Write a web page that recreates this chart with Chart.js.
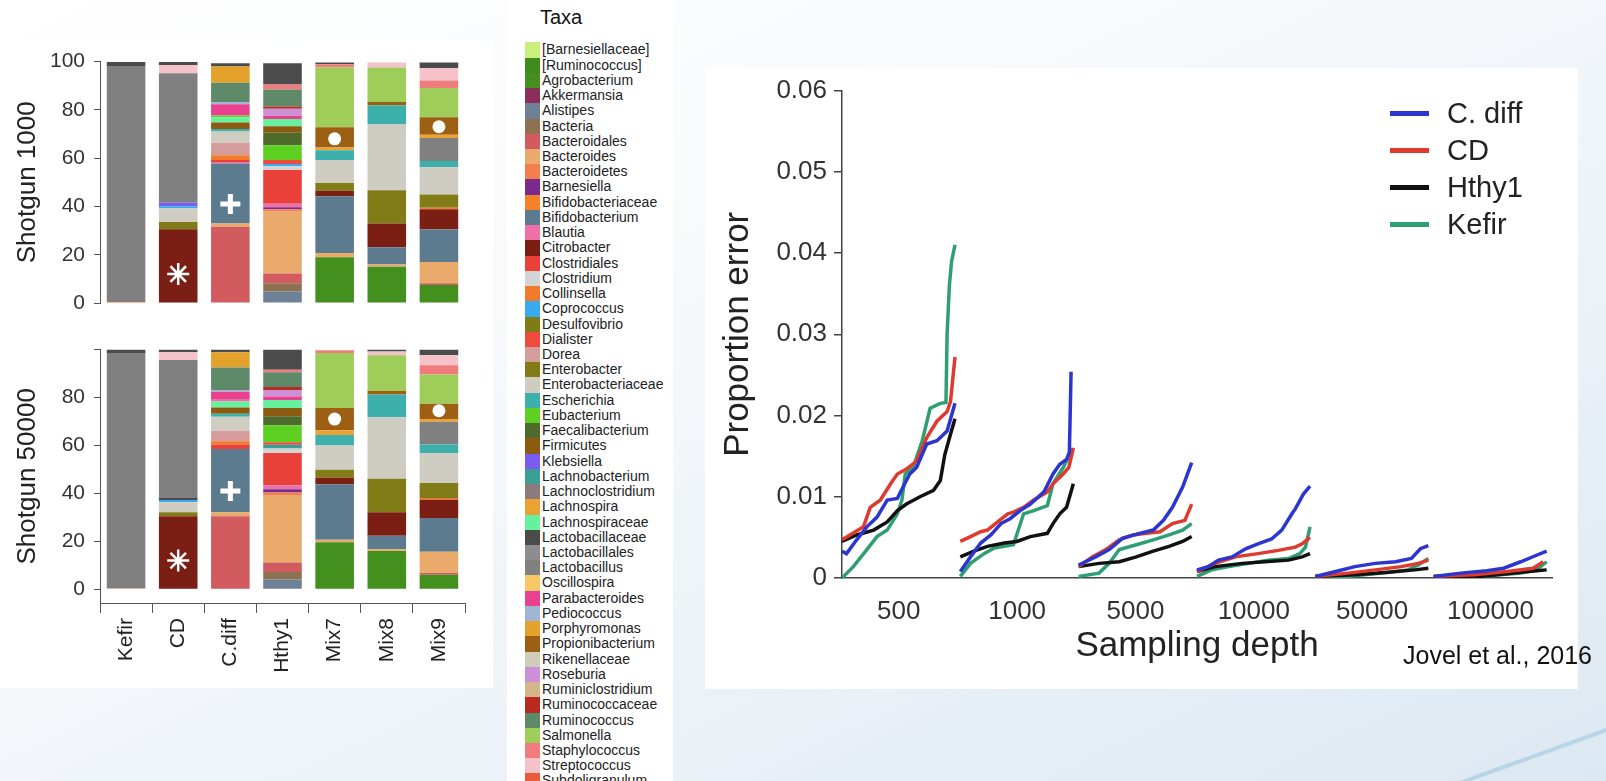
<!DOCTYPE html>
<html>
<head>
<meta charset="utf-8">
<title>Shotgun composition and sampling depth</title>
<script src="https://cdn.jsdelivr.net/npm/chart.js@4.4.1/dist/chart.umd.min.js"></script>
<style>
  html, body { margin:0; padding:0; }
  body { width:1606px; height:781px; overflow:hidden; position:relative;
         font-family:"Liberation Sans", Arial, sans-serif;
         background: linear-gradient(155deg, #ffffff 0%, #f8fafc 35%, #eaf1f7 70%, #dce8f2 100%); }
  .box { position:absolute; background:#fff; }
  .abs { position:absolute; }
  #taxa-box { left:507px; top:0; width:166px; height:781px; overflow:hidden; }
  #taxa-title { position:absolute; left:33px; top:5px; font-size:20px; line-height:24px; color:#111; }
  .taxa-row { position:absolute; left:18px; height:15.23px; line-height:15.23px; font-size:14px; color:#222; white-space:nowrap; }
  .taxa-row span { display:inline-block; width:15px; height:15.23px; vertical-align:top; margin-right:2px; }
  .leg-row { position:absolute; left:1390px; height:34px; line-height:34px; font-size:29px; color:#222; white-space:nowrap; }
  .leg-row span { display:inline-block; width:39px; height:5px; vertical-align:middle; margin-right:18px; position:relative; top:-2px; }
  #cite { left:1403px; top:642px; font-size:25px; line-height:26px; color:#111; }
</style>
</head>
<body>

<svg class="abs" width="1606" height="781" style="left:0;top:0">
  <line x1="1440" y1="790" x2="1615" y2="727" stroke="#b7d5e4" stroke-width="4"/>
</svg>

<div class="box" style="left:0;top:40px;width:493px;height:648px"></div>
<canvas id="bar1000" class="abs" width="493" height="288" style="left:0;top:40px"></canvas>
<canvas id="bar50000" class="abs" width="493" height="360" style="left:0;top:328px"></canvas>

<div id="taxa-box" class="box">
  <div id="taxa-title">Taxa</div>
</div>

<div class="box" style="left:705px;top:68px;width:873px;height:621px"></div>
<canvas id="erro" class="abs" width="873" height="621" style="left:705px;top:68px"></canvas>
<div id="leg"></div>
<div id="cite" class="abs">Jovel et al., 2016</div>

<script>
Chart.defaults.font.family = '"Liberation Sans", Arial, sans-serif';
Chart.defaults.animation = false;

// ---------------- Taxa ----------------
const taxaNames = ['[Barnesiellaceae]','[Ruminococcus]','Agrobacterium','Akkermansia','Alistipes','Bacteria',
  'Bacteroidales','Bacteroides','Bacteroidetes','Barnesiella','Bifidobacteriaceae','Bifidobacterium','Blautia',
  'Citrobacter','Clostridiales','Clostridium','Collinsella','Coprococcus','Desulfovibrio','Dialister','Dorea',
  'Enterobacter','Enterobacteriaceae','Escherichia','Eubacterium','Faecalibacterium','Firmicutes','Klebsiella',
  'Lachnobacterium','Lachnoclostridium','Lachnospira','Lachnospiraceae','Lactobacillaceae','Lactobacillales',
  'Lactobacillus','Oscillospira','Parabacteroides','Pediococcus','Porphyromonas','Propionibacterium',
  'Rikenellaceae','Roseburia','Ruminiclostridium','Ruminococcaceae','Ruminococcus','Salmonella',
  'Staphylococcus','Streptococcus','Subdoligranulum'];
const taxaColors = ['#c9f07c','#3f8c1d','#43901f','#8c2d5c','#6f8197','#8d7150',
  '#d25b60','#e9aa6c','#f2804f','#7c2a90','#f58128','#5c7b8f','#ee70a8',
  '#7b1f14','#e9413a','#d4d4d4','#f27a2b','#38aaf0','#7f7c14','#ef4b3c','#d59c9c',
  '#817c18','#cfcdc2','#3eb0ab','#5ed021','#4f6b2b','#8c5b12','#7a5df0',
  '#3a9f95','#8b7b7b','#eca232','#66f29c','#4b4b4b','#8d8d8d',
  '#808080','#f8c866','#e9418f','#a0b4d4','#e4a12b','#9d5f14',
  '#d0ccb9','#cd90d7','#d5b58b','#b8291f','#5e8a69','#9ecd5a',
  '#f07c7e','#f6c2c9','#e95b3b'];

const samples = ['Kefir','CD','C.diff','Hthy1','Mix7','Mix8','Mix9'];

// ---------------- Shotgun 1000 (segments bottom -> top, %) ----------------
const kefir1000 = [['Bacteroidetes',0.4],['Lactobacillus',97.8],['Lactobacillaceae',1.6]];
const cd1000 = [['Citrobacter',30.6],['Enterobacter',3.0],['Enterobacteriaceae',5.6],['Coprococcus',0.9],
  ['Klebsiella',1.4],['Lactobacillus',53.7],['Streptococcus',3.4],['Lactobacillaceae',1.2]];
const cdiff1000 = [['Bacteroidales',31.6],['Bacteroides',1.3],['Bifidobacterium',24.9],['Blautia',0.6],
  ['Clostridiales',0.8],['Collinsella',2.0],['Dorea',5.2],['Enterobacteriaceae',4.6],['Escherichia',1.1],
  ['Firmicutes',2.7],['Lachnospiraceae',2.1],['Eubacterium',0.8],['Parabacteroides',4.6],['Pediococcus',1.0],
  ['Ruminococcus',7.9],['Porphyromonas',6.8],['Lactobacillaceae',1.3]];
const hthy1000 = [['Alistipes',4.8],['Bacteria',3.4],['Bacteroidales',4.0],['Bacteroides',25.6],
  ['Bacteroidetes',1.0],['Barnesiella',0.9],['Blautia',1.4],['Clostridiales',14.0],['Clostridium',1.6],
  ['Coprococcus',0.9],['Dialister',1.6],['Eubacterium',6.1],['Faecalibacterium',5.2],['Firmicutes',2.7],
  ['Lachnospiraceae',3.0],['Parabacteroides',1.4],['Roseburia',2.9],['Ruminococcaceae',0.9],
  ['Ruminococcus',7.0],['Staphylococcus',2.1],['Lactobacillaceae',8.8]];
const mix7_1000 = [['Agrobacterium',19.0],['Bacteroides',1.7],['Bifidobacterium',23.5],['Citrobacter',2.3],
  ['Enterobacter',3.2],['Enterobacteriaceae',9.5],['Escherichia',4.1],['Lachnospira',1.1],
  ['Propionibacterium',8.4],['Salmonella',24.9],['Staphylococcus',1.2],['Lactobacillaceae',0.7]];
const mix8_1000 = [['Agrobacterium',15.0],['Bacteroides',0.9],['Bifidobacterium',7.2],['Citrobacter',9.8],
  ['Enterobacter',13.8],['Enterobacteriaceae',27.2],['Escherichia',8.0],['Propionibacterium',1.4],
  ['Salmonella',14.3],['Streptococcus',2.0]];
const mix9_1000 = [['Agrobacterium',7.5],['Bacteroidales',0.7],['Bacteroides',8.8],['Bifidobacterium',13.6],
  ['Citrobacter',8.2],['Collinsella',0.7],['Enterobacter',5.4],['Enterobacteriaceae',11.3],['Escherichia',2.6],
  ['Lactobacillus',9.5],['Lachnospira',1.4],['Propionibacterium',7.2],['Salmonella',12.2],
  ['Staphylococcus',3.1],['Streptococcus',5.1],['Lactobacillaceae',2.3]];

// ---------------- Shotgun 50000 ----------------
const kefir50000 = [['Bacteroides',0.4],['Lactobacillus',98.2],['Lactobacillaceae',1.4]];
const cd50000 = [['Citrobacter',30.5],['Enterobacter',1.7],['Enterobacteriaceae',4.1],['Coprococcus',1.0],
  ['Lactobacillaceae',0.8],['Lactobacillus',57.6],['Streptococcus',3.2],['Lactobacillaceae',1.1]];
const cdiff50000 = [['Bacteroidales',30.5],['Bacteroides',1.7],['Bifidobacterium',26.3],['Clostridiales',1.9],
  ['Collinsella',1.4],['Dorea',4.3],['Enterobacteriaceae',5.9],['Escherichia',1.2],['Firmicutes',2.7],
  ['Lachnospiraceae',2.4],['Blautia',1.1],['Parabacteroides',3.0],['Pediococcus',0.7],['Ruminococcus',9.4],
  ['Porphyromonas',6.4],['Lactobacillaceae',1.1]];
const hthy50000 = [['Alistipes',4.1],['Bacteria',3.1],['Bacteroidales',4.0],['Bacteroides',28.1],
  ['Bacteroidetes',1.1],['Barnesiella',1.3],['Blautia',1.7],['Clostridiales',13.5],['Clostridium',1.8],
  ['Lachnobacterium',1.6],['Dialister',1.1],['Eubacterium',7.0],['Faecalibacterium',3.8],['Firmicutes',3.4],
  ['Lachnospiraceae',3.4],['Parabacteroides',1.4],['Roseburia',2.7],['Ruminococcaceae',1.3],
  ['Ruminococcus',6.1],['Staphylococcus',1.1],['Lactobacillaceae',8.4]];
const mix7_50000 = [['Agrobacterium',19.6],['Bacteroides',1.1],['Bifidobacterium',23.1],['Citrobacter',2.7],
  ['Enterobacter',3.4],['Enterobacteriaceae',10.1],['Escherichia',4.4],['Lachnospira',2.0],
  ['Propionibacterium',9.2],['Salmonella',23.0],['Staphylococcus',1.1]];
const mix8_50000 = [['Agrobacterium',16.0],['Bacteroides',0.7],['Bifidobacterium',5.7],['Citrobacter',9.8],
  ['Enterobacter',13.9],['Enterobacteriaceae',25.7],['Escherichia',9.5],['Propionibacterium',1.4],
  ['Salmonella',14.9],['Streptococcus',1.6],['Lactobacillaceae',0.8]];
const mix9_50000 = [['Agrobacterium',6.1],['Bacteroidales',0.8],['Bacteroides',8.8],['Bifidobacterium',14.1],
  ['Citrobacter',7.6],['Collinsella',0.7],['Enterobacter',6.3],['Enterobacteriaceae',12.5],['Escherichia',3.5],
  ['Lactobacillus',9.5],['Lachnospira',1.2],['Propionibacterium',6.3],['Salmonella',12.2],
  ['Staphylococcus',3.9],['Streptococcus',4.1],['Lactobacillaceae',2.4]];

// white symbols drawn on the bars (*, +, dots)
const marks1000 = [null, 12, 41, null, 68, null, 73];
const marks50000 = [null, 12, 41, null, 71, null, 74.5];
const markStyles = ['circle','star','cross','circle','circle','circle','circle'];
const markSizes = [0, 11, 10, 0, 6.5, 0, 6.5];
const markStrokes = [0, 2.5, 5, 0, 0, 0, 0];
const pctTicks = [0, 20, 40, 60, 80, 100];

// ---------------- Proportion error ----------------
const depthLabels = ['500','1000','5000','10000','50000','100000'];
const seriesNames = ['C. diff','CD','Hthy1','Kefir'];
const seriesColors = ['#2b35d0','#e03a2e','#111111','#2f9e72'];
const errTicks = [0, 0.01, 0.02, 0.03, 0.04, 0.05, 0.06];
const errTickLabels = ['0','0.01','0.02','0.03','0.04','0.05','0.06'];

// [position within depth group 0..1, error] per depth group
const errCdiff = [
  [[0,.0033],[.04,.0030],[.13,.0047],[.22,.0063],[.31,.0075],[.40,.0096],[.49,.0098],[.54,.0112],[.60,.0128],[.66,.0136],[.75,.0165],[.84,.0169],[.93,.0181],[1,.0215]],
  [[0,.0008],[.09,.0026],[.18,.0043],[.27,.0053],[.36,.0067],[.44,.0073],[.53,.0083],[.62,.0091],[.74,.0106],[.82,.0128],[.88,.0140],[.94,.0146],[.965,.0155],[.98,.0254]],
  [[0,.0016],[.15,.0026],[.27,.0035],[.39,.0049],[.54,.0055],[.66,.0059],[.75,.0071],[.83,.0087],[.92,.0112],[1,.0142]],
  [[0,.0010],[.10,.0014],[.19,.0022],[.31,.0026],[.43,.0036],[.54,.0042],[.66,.0048],[.75,.0059],[.84,.0079],[.87,.0085],[.94,.0103],[1,.0113]],
  [[0,.0002],[.18,.0008],[.35,.0014],[.53,.0018],[.71,.0020],[.85,.0024],[.93,.0036],[1,.0040]],
  [[0,.0002],[.24,.0006],[.47,.0009],[.62,.0012],[.77,.0020],[.91,.0028],[1,.0033]]
];
const errCD = [
  [[0,.0047],[.07,.0053],[.19,.0063],[.25,.0087],[.34,.0096],[.43,.0116],[.49,.0128],[.57,.0134],[.66,.0144],[.75,.0173],[.84,.0193],[.93,.0205],[.96,.0217],[1,.0272]],
  [[0,.0045],[.09,.0051],[.18,.0057],[.24,.0059],[.33,.0069],[.42,.0079],[.47,.0081],[.56,.0087],[.65,.0096],[.77,.0106],[.82,.0116],[.91,.0128],[.96,.0136],[1,.0160]],
  [[0,.0014],[.12,.0026],[.24,.0035],[.36,.0047],[.48,.0053],[.60,.0055],[.72,.0057],[.83,.0067],[.94,.0071],[1,.0091]],
  [[0,.0008],[.16,.0018],[.34,.0026],[.54,.0030],[.72,.0034],[.87,.0038],[.93,.0042],[1,.0050]],
  [[0,.0002],[.29,.0006],[.53,.0010],[.76,.0014],[.91,.0018],[1,.0022]],
  [[0,.0002],[.36,.0004],[.65,.0008],[.88,.0012],[.97,.0020]]
];
const errHthy1 = [
  [[0,.0045],[.13,.0053],[.28,.0059],[.40,.0069],[.49,.0083],[.57,.0091],[.69,.0100],[.81,.0108],[.87,.0120],[.91,.0152],[.96,.0177],[1,.0196]],
  [[0,.0026],[.12,.0033],[.24,.0039],[.39,.0043],[.50,.0045],[.62,.0051],[.77,.0055],[.82,.0067],[.88,.0079],[.94,.0087],[1,.0116]],
  [[0,.0014],[.18,.0018],[.36,.0020],[.51,.0026],[.66,.0033],[.80,.0039],[.92,.0045],[1,.0051]],
  [[0,.0008],[.16,.0014],[.40,.0018],[.60,.0020],[.81,.0022],[.93,.0026],[1,.0030]],
  [[0,.0002],[.35,.0004],[.65,.0007],[.88,.0010],[1,.0012]],
  [[0,.0002],[.42,.0002],[.71,.0006],[.91,.0009],[1,.0010]]
];
const errKefir = [
  [[0,0],[.10,.0014],[.22,.0035],[.31,.0051],[.40,.0059],[.49,.0079],[.53,.0096],[.56,.0128],[.63,.0136],[.71,.0169],[.78,.0209],[.87,.0215],[.92,.0216],[.93,.0300],[.95,.0360],[.97,.0390],[1,.0410]],
  [[0,.0002],[.09,.0018],[.21,.0030],[.30,.0037],[.47,.0041],[.56,.0079],[.65,.0083],[.77,.0089],[.82,.0116],[.91,.0136],[.97,.0152],[1,.0160]],
  [[0,.0002],[.18,.0006],[.27,.0018],[.36,.0035],[.51,.0041],[.66,.0047],[.80,.0053],[.92,.0059],[1,.0067]],
  [[0,.0002],[.13,.0010],[.28,.0014],[.46,.0018],[.63,.0022],[.81,.0024],[.91,.0030],[.96,.0038],[1,.0063]],
  [[0,.0001],[.29,.0002],[.59,.0006],[.82,.0010],[.91,.0016],[1,.0024]],
  [[0,.0001],[.42,.0002],[.77,.0006],[.91,.0010],[1,.0020]]
];
const errSeries = [errCdiff, errCD, errHthy1, errKefir];
const groupSpan = 0.955;

// ---------------- Taxa legend ----------------
const taxaBox = document.getElementById('taxa-box');
taxaNames.forEach((name, i) => {
    const row = document.createElement('div');
    row.className = 'taxa-row';
    row.style.top = (42.4 + i * 15.23) + 'px';
    row.innerHTML = `<span style="background:${taxaColors[i]}"></span>${name}`;
    taxaBox.appendChild(row);
});

// ---------------- Stacked bars ----------------
function colorOf(name) {
    return taxaColors[taxaNames.indexOf(name)];
}

function criarBarras(canvasId, panel, marks, yTitle, bottomPanel) {
    const maxSegs = Math.max(...panel.map(s => s.length));
    const datasets = [];
    for (let k = 0; k < maxSegs; k++) {
        datasets.push({
            type: 'bar', stack: 'taxa',
            data: panel.map(s => s[k] ? s[k][1] : null),
            backgroundColor: panel.map(s => s[k] ? colorOf(s[k][0]) : 'rgba(0,0,0,0)'),
            borderWidth: 0, barPercentage: 0.74, categoryPercentage: 1
        });
    }
    datasets.push({
        type: 'line', stack: 'marks', order: -1, data: marks, showLine: false,
        pointStyle: markStyles, pointRadius: markSizes, pointHoverRadius: markSizes,
        pointBorderWidth: markStrokes, pointBackgroundColor: '#fff', pointBorderColor: '#fff'
    });

    new Chart(document.getElementById(canvasId), {
        type: 'bar',
        data: { labels: samples, datasets },
        options: {
            responsive: false,
            layout: { padding: bottomPanel ? {top:14, right:28, bottom:0, left:0} : {top:18, right:28, bottom:25, left:0} },
            plugins: { legend: { display: false }, tooltip: { enabled: false } },
            scales: {
                x: {
                    stacked: true,
                    display: bottomPanel,
                    grid: { offset: true, drawOnChartArea: false, tickLength: 10, color: '#555' },
                    border: { color: '#555' },
                    ticks: { minRotation: 90, maxRotation: 90, font: { size: 21 }, color: '#222', padding: 5 },
                    afterFit: s => { s.height = bottomPanel ? 85 : 0; }
                },
                y: {
                    stacked: true,
                    min: bottomPanel ? -5.7 : 0, max: 100,
                    afterBuildTicks: s => { s.ticks = pctTicks.map(v => ({ value: v })); },
                    ticks: {
                        font: { size: 21 }, color: '#333', padding: 9,
                        callback: v => (bottomPanel && v === 100) ? '' : v
                    },
                    grid: { drawOnChartArea: false, tickLength: 6, color: '#555' },
                    border: { color: '#555' },
                    title: { display: true, text: yTitle, font: { size: 26 }, color: '#222', padding: { top: 12, bottom: 0 } },
                    afterFit: s => { s.width = 100; }
                }
            }
        }
    });
}

criarBarras('bar1000', [kefir1000, cd1000, cdiff1000, hthy1000, mix7_1000, mix8_1000, mix9_1000], marks1000, 'Shotgun 1000', false);
criarBarras('bar50000', [kefir50000, cd50000, cdiff50000, hthy50000, mix7_50000, mix8_50000, mix9_50000], marks50000, 'Shotgun 50000', true);

// ---------------- Proportion error lines ----------------
function pontos(groups) {
    const pts = [];
    groups.forEach((g, gi) => {
        g.forEach(([t, v]) => pts.push({ x: gi + t * groupSpan, y: v }));
        pts.push({ x: gi + 0.98, y: null });
    });
    return pts;
}

new Chart(document.getElementById('erro'), {
    type: 'line',
    data: {
        datasets: errSeries.map((s, i) => ({
            label: seriesNames[i], data: pontos(s),
            borderColor: seriesColors[i], backgroundColor: seriesColors[i],
            borderWidth: 3.5, pointRadius: 0, tension: 0, spanGaps: false
        }))
    },
    options: {
        responsive: false,
        layout: { padding: { top: 18, right: 26, bottom: 0, left: 0 } },
        plugins: { legend: { display: false }, tooltip: { enabled: false } },
        scales: {
            x: {
                type: 'linear', min: 0, max: 6,
                afterBuildTicks: s => { s.ticks = depthLabels.map((l, i) => ({ value: i + 0.48 })); },
                ticks: { callback: (v, i) => depthLabels[i], autoSkip: false, maxRotation: 0, font: { size: 26 }, color: '#333', padding: 10 },
                grid: { display: false },
                border: { color: '#444', width: 1.5 },
                title: { display: true, text: 'Sampling depth', font: { size: 35 }, color: '#222', padding: { top: 0, bottom: 22 } },
                afterFit: s => { s.height = 111; }
            },
            y: {
                min: 0, max: 0.06,
                afterBuildTicks: s => { s.ticks = errTicks.map(v => ({ value: v })); },
                ticks: { callback: (v, i) => errTickLabels[i], font: { size: 26 }, color: '#333', padding: 7 },
                grid: { drawOnChartArea: false, tickLength: 8, color: '#444', lineWidth: 1.5 },
                border: { color: '#444', width: 1.5 },
                title: { display: true, text: 'Proportion error', font: { size: 35 }, color: '#222', padding: { top: 12, bottom: 0 } },
                afterFit: s => { s.width = 137; }
            }
        }
    }
});

// legend of the line chart
const leg = document.getElementById('leg');
seriesNames.forEach((nome, i) => {
    const row = document.createElement('div');
    row.className = 'leg-row';
    row.style.top = (113 + i * 37 - 17) + 'px';
    row.innerHTML = `<span style="background:${seriesColors[i]}"></span>${nome}`;
    leg.appendChild(row);
});
</script>
</body>
</html>
